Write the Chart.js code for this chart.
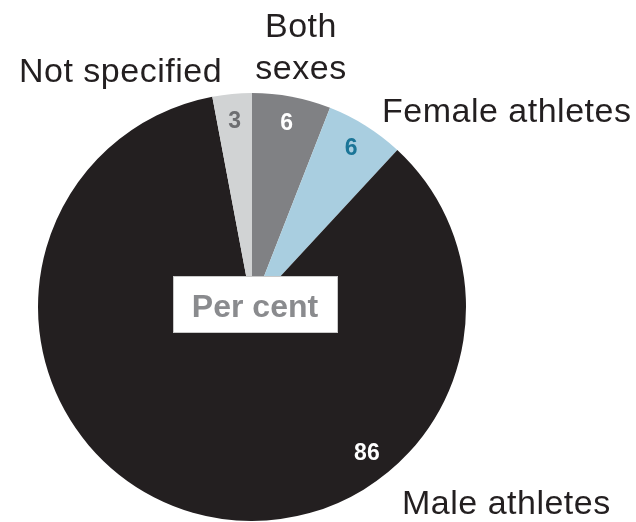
<!DOCTYPE html>
<html>
<head>
<meta charset="utf-8">
<script src="https://cdn.jsdelivr.net/npm/chart.js@4"></script>
<style>
    body { margin: 0; background: #ffffff; }
    #wrap { width: 636px; height: 522px; }
</style>
</head>
<body>
<div id="wrap"><canvas id="pie-chart" width="636" height="522"></canvas></div>
<script>
// slice order runs clockwise from 12 o'clock
const categories = ["Both sexes", "Female athletes", "Male athletes", "Not specified"];
const shares = [6, 6, 86, 3]; // per cent
const valueLabels = ["6", "6", "86", "3"];

const sliceColors = ["#808184", "#a9cee0", "#231f20", "#d1d3d4"];
const valueColors = ["#ffffff", "#1b7597", "#ffffff", "#6d6e71"];

// outer category labels (text lines, anchor, alignment)
const outerLabels = [
    { lines: ["Both", "sexes"], x: 301, y: 37, align: "center" },
    { lines: ["Female athletes"], x: 382, y: 122, align: "left" },
    { lines: ["Male athletes"], x: 402, y: 514, align: "left" },
    { lines: ["Not specified"], x: 19, y: 82, align: "left" }
];

const pieLabels = {
    id: "pieLabels",
    afterDraw(chart) {
        let ctx = chart.ctx;
        let arcs = chart.getDatasetMeta(0).data;
        ctx.save();

        // numbers inside the slices
        ctx.font = "bold 23px 'Liberation Sans', Arial, sans-serif";
        ctx.textAlign = "center";
        ctx.textBaseline = "middle";
        arcs.forEach((arc, i) => {
            let angle = (arc.startAngle + arc.endAngle) / 2;
            if (categories[i] == "Male athletes") {
                angle = (142 - 90) * Math.PI / 180; // big slice label sits low right
            }
            let r = arc.outerRadius * 0.872;
            ctx.fillStyle = valueColors[i];
            ctx.fillText(valueLabels[i], arc.x + Math.cos(angle) * r, arc.y + Math.sin(angle) * r);
        });

        // "Per cent" box over the centre
        let cx = arcs[0].x + 3;
        let cy = arcs[0].y - 2;
        ctx.fillStyle = "#ffffff";
        ctx.fillRect(cx - 82, cy - 29, 165, 57);
        ctx.strokeStyle = "#c9c9c9";
        ctx.lineWidth = 1;
        ctx.strokeRect(cx - 82 + 0.5, cy - 29 + 0.5, 164, 56);
        ctx.fillStyle = "#8a8b8e";
        ctx.font = "bold 32px 'Liberation Sans', Arial, sans-serif";
        ctx.textBaseline = "alphabetic";
        ctx.fillText("Per cent", cx, cy + 12);

        // category names outside
        ctx.fillStyle = "#231f20";
        ctx.font = "34px 'Liberation Sans', Arial, sans-serif";
        ctx.letterSpacing = "0.5px";
        for (let lab of outerLabels) {
            ctx.textAlign = lab.align;
            lab.lines.forEach((line, k) => {
                ctx.fillText(line, lab.x, lab.y + k * 42);
            });
        }
        ctx.restore();
    }
};

new Chart(document.getElementById("pie-chart"), {
    type: "pie",
    data: {
        labels: categories,
        datasets: [{
            data: shares,
            backgroundColor: sliceColors,
            borderWidth: 0
        }]
    },
    options: {
        responsive: false,
        animation: false,
        layout: {
            padding: { left: 38, right: 170, top: 93, bottom: 1 }
        },
        plugins: {
            legend: { display: false },
            tooltip: { enabled: false }
        }
    },
    plugins: [pieLabels]
});
</script>
</body>
</html>
